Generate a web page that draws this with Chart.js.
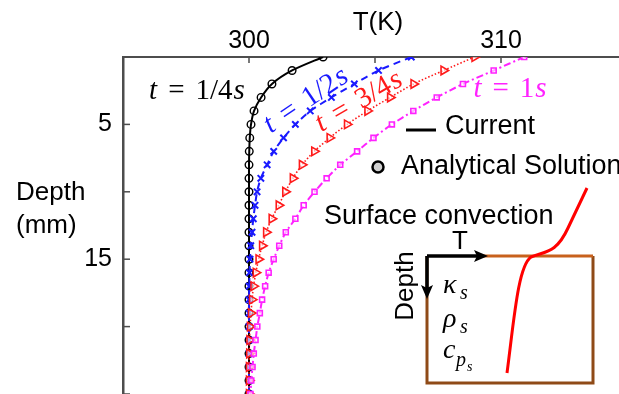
<!DOCTYPE html>
<html>
<head>
<meta charset="utf-8">
<script src="https://cdn.jsdelivr.net/npm/chart.js@4/dist/chart.umd.min.js"></script>
<style>
  html, body { margin: 0; padding: 0; overflow: hidden; background: #fff; }
</style>
</head>
<body>
<canvas id="myChart" width="700" height="420"></canvas>
<script>
// depth below surface (mm)
const depth = [0, 1, 2, 3, 4, 5, 6, 7, 8, 9, 10, 11, 12, 13, 14, 15, 16, 17, 18, 19, 20, 21, 22, 23, 24, 25];

// temperature (K) at each depth
const tQuarter = [302.94, 301.71, 300.91, 300.48, 300.2, 300.08, 300.03, 300.01, 300, 300, 300, 300, 300,
                  300, 300, 300, 300, 300, 300, 300, 300, 300, 300, 300, 300, 300];
const tHalf    = [306.44, 305.14, 304.18, 303.27, 302.43, 301.84, 301.37, 300.98, 300.72, 300.47, 300.32, 300.24, 300.17,
                  300.12, 300.07, 300.04, 300.02, 300.01, 300, 300, 300, 300, 300, 300, 300, 300];
const tThreeQ  = [308.95, 307.72, 306.53, 305.6, 304.7, 303.89, 303.2, 302.59, 302.1, 301.74, 301.44, 301.18, 300.9,
                  300.68, 300.52, 300.38, 300.27, 300.18, 300.12, 300.08, 300.04, 300.02, 300.01, 300, 300, 300];
const tOne     = [310.92, 309.71, 308.49, 307.45, 306.52, 305.67, 304.94, 304.29, 303.62, 303.08, 302.6, 302.17, 301.84,
                  301.46, 301.2, 300.98, 300.78, 300.64, 300.52, 300.43, 300.33, 300.26, 300.19, 300.14, 300.09, 300.06];

const xTickLabels = [300, 310];
const yTickLabels = [5, 15];

const sans = '"Liberation Sans", Arial, sans-serif';
const serif = '"Liberation Serif", "DejaVu Serif", serif';

function pts(vals) {
  return vals.map((v, i) => ({ x: v, y: depth[i] }));
}

// draws "t = 1/4s" style labels, centred at (cx, cy), rotated by ang degrees
function mathLabel(ctx, parts, cx, cy, ang, color, size) {
  ctx.save();
  let w = 0;
  parts.forEach(p => {
    ctx.font = (p.i ? 'italic ' : '') + size + 'px ' + serif;
    p.w = ctx.measureText(p.s).width;
    w += p.w + (p.g || 0);
  });
  ctx.translate(cx, cy);
  ctx.rotate(ang * Math.PI / 180);
  ctx.fillStyle = color;
  ctx.textBaseline = 'alphabetic';
  let x = -w / 2;
  parts.forEach(p => {
    ctx.font = (p.i ? 'italic ' : '') + size + 'px ' + serif;
    ctx.fillText(p.s, x, size * 0.33);
    x += p.w + (p.g || 0);
  });
  ctx.restore();
}

function tLabel(frac) {
  return [{ s: 't', i: true, g: 11 }, { s: '=', g: 11 }, { s: frac, g: 1 }, { s: 's', i: true }];
}

const decor = {
  id: 'decor',
  afterDraw(chart) {
    const ctx = chart.ctx;
    const xs = chart.scales.x, ys = chart.scales.y;
    const area = chart.chartArea;
    ctx.save();

    // inward tick marks
    ctx.strokeStyle = '#4d4d4d';
    ctx.lineWidth = 1.5;
    [295, 300, 305, 310, 315].forEach(v => {
      const px = xs.getPixelForValue(v);
      ctx.beginPath(); ctx.moveTo(px, area.top); ctx.lineTo(px, area.top + 6); ctx.stroke();
    });
    [0, 5, 10, 15, 20, 25].forEach(v => {
      const py = ys.getPixelForValue(v);
      ctx.beginPath(); ctx.moveTo(area.left, py); ctx.lineTo(area.left + 7, py); ctx.stroke();
    });

    // axis titles
    ctx.fillStyle = '#000';
    ctx.font = '26px ' + sans;
    ctx.textBaseline = 'middle';
    ctx.textAlign = 'center';
    ctx.fillText('T(K)', 378, 23);
    ctx.textAlign = 'left';
    ctx.fillText('Depth', 16, 193);
    ctx.fillText('(mm)', 16, 226);

    // curve labels
    mathLabel(ctx, tLabel('1/4'), 197, 89, 0, '#000', 29);
    mathLabel(ctx, tLabel('1/2'), 305, 99, -34, '#1a1aff', 29);
    mathLabel(ctx, tLabel('3/4'), 358, 100, -30, '#ff1a1a', 29);
    mathLabel(ctx, [{ s: 't', i: true, g: 11 }, { s: '=', g: 11 }, { s: '1', g: 1 }, { s: 's', i: true }],
              510, 87, 0, '#ff22ff', 29);

    // legend
    ctx.strokeStyle = '#000';
    ctx.lineWidth = 3;
    ctx.beginPath(); ctx.moveTo(406, 130); ctx.lineTo(436, 130); ctx.stroke();
    ctx.beginPath(); ctx.arc(378, 167, 5.5, 0, Math.PI * 2);
    ctx.fillStyle = '#d0d0d0'; ctx.fill();
    ctx.lineWidth = 2.5; ctx.stroke();
    ctx.fillStyle = '#000';
    ctx.font = '27px ' + sans;
    ctx.textAlign = 'left';
    ctx.fillText('Current', 445, 127);
    ctx.fillText('Analytical Solution', 401, 167);

    // inset sketch
    ctx.fillText('Surface convection', 324, 217);
    ctx.strokeStyle = '#8f4a17';
    ctx.lineWidth = 3;
    ctx.beginPath();
    ctx.moveTo(427, 256); ctx.lineTo(427, 383); ctx.lineTo(593, 383); ctx.lineTo(593, 256);
    ctx.stroke();
    ctx.strokeStyle = '#c8611c';
    ctx.beginPath(); ctx.moveTo(480, 256); ctx.lineTo(593, 256); ctx.stroke();

    ctx.strokeStyle = '#000';
    ctx.fillStyle = '#000';
    ctx.lineWidth = 3.5;
    ctx.beginPath(); ctx.moveTo(427, 256); ctx.lineTo(478, 256); ctx.stroke();
    ctx.beginPath(); ctx.moveTo(488, 256); ctx.lineTo(474, 250); ctx.lineTo(477, 256); ctx.lineTo(474, 262); ctx.closePath(); ctx.fill();
    ctx.beginPath(); ctx.moveTo(427, 256); ctx.lineTo(427, 290); ctx.stroke();
    ctx.beginPath(); ctx.moveTo(427, 299); ctx.lineTo(421, 285); ctx.lineTo(427, 288); ctx.lineTo(433, 285); ctx.closePath(); ctx.fill();

    ctx.font = '26px ' + sans;
    ctx.textAlign = 'center';
    ctx.fillText('T', 460, 242);
    ctx.save();
    ctx.translate(406, 286);
    ctx.rotate(-Math.PI / 2);
    ctx.fillText('Depth', 0, 0);
    ctx.restore();

    // red sketch of a profile
    ctx.strokeStyle = '#ff0000';
    ctx.lineWidth = 3;
    ctx.beginPath();
    ctx.moveTo(507, 373);
    ctx.bezierCurveTo(514, 320, 518, 266, 531, 257);
    ctx.bezierCurveTo(545, 251, 556, 254, 568, 228);
    ctx.lineTo(587, 188);
    ctx.stroke();

    // material symbols
    ctx.textAlign = 'left';
    ctx.textBaseline = 'alphabetic';
    ctx.font = 'italic 28px ' + serif;
    ctx.fillText('\u03BA', 443, 293);
    ctx.fillText('\u03C1', 443, 327);
    ctx.fillText('c', 443, 358);
    ctx.font = 'italic 20px ' + serif;
    ctx.fillText('s', 460, 299);
    ctx.fillText('s', 460, 333);
    ctx.fillText('p', 456, 366);
    ctx.font = 'italic 14px ' + serif;
    ctx.fillText('s', 467, 371);

    ctx.restore();
  }
};

const ctx = document.getElementById('myChart').getContext('2d');
const myChart = new Chart(ctx, {
  type: 'line',
  data: {
    datasets: [
      {
        label: 't = 1/4s',
        data: pts(tQuarter),
        borderColor: '#000000',
        borderWidth: 2,
        pointStyle: 'circle',
        pointRadius: 3.8,
        pointBorderWidth: 1.4,
        pointBackgroundColor: 'rgba(0,0,0,0)',
        pointBorderColor: '#000000',
        tension: 0.25,
        order: 4
      },
      {
        label: 't = 1/2s',
        data: pts(tHalf),
        borderColor: '#1a1aff',
        borderWidth: 2,
        borderDash: [7, 5],
        pointStyle: 'crossRot',
        pointRadius: 4.5,
        pointBorderWidth: 2,
        pointBorderColor: '#1a1aff',
        tension: 0.25,
        order: 3
      },
      {
        label: 't = 3/4s',
        data: pts(tThreeQ),
        borderColor: '#ff1a1a',
        borderWidth: 1.6,
        borderDash: [1.5, 2],
        pointStyle: 'triangle',
        pointRotation: 90,
        pointRadius: 5,
        pointBorderWidth: 1.6,
        pointBackgroundColor: 'rgba(255,255,255,0.6)',
        pointBorderColor: '#ff1a1a',
        tension: 0.25,
        order: 2
      },
      {
        label: 't = 1s',
        data: pts(tOne),
        borderColor: '#ff22ff',
        borderWidth: 2,
        borderDash: [7, 3, 2, 3],
        pointStyle: 'rect',
        pointRadius: 3.5,
        pointBorderWidth: 1.6,
        pointBackgroundColor: 'rgba(255,255,255,0.6)',
        pointBorderColor: '#ff22ff',
        tension: 0.25,
        order: 1
      }
    ]
  },
  options: {
    responsive: false,
    animation: false,
    events: [],
    layout: { padding: { left: 0, top: 0, right: 73, bottom: 22 } },
    plugins: {
      legend: { display: false },
      tooltip: { enabled: false }
    },
    scales: {
      x: {
        type: 'linear',
        position: 'top',
        min: 295,
        max: 315,
        afterFit(scale) { scale.height = 57; },
        grid: { display: false, drawTicks: false },
        border: { display: true, color: '#4d4d4d', width: 2 },
        ticks: {
          stepSize: 5,
          padding: 1,
          color: '#000',
          font: { family: sans, size: 25 },
          callback: v => xTickLabels.includes(v) ? String(v) : ''
        }
      },
      y: {
        type: 'linear',
        reverse: true,
        min: 0,
        max: 25,
        afterFit(scale) { scale.width = 123; },
        grid: { display: false, drawTicks: false },
        border: { display: true, color: '#4d4d4d', width: 2.5 },
        ticks: {
          stepSize: 5,
          padding: 11,
          color: '#000',
          font: { family: sans, size: 25 },
          callback: v => yTickLabels.includes(v) ? String(v) : ''
        }
      }
    }
  },
  plugins: [decor]
});
</script>
</body>
</html>
